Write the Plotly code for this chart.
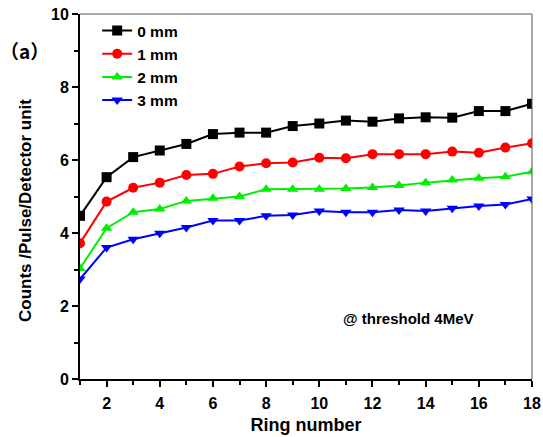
import plotly.graph_objects as go

ring = list(range(1, 19))
mm0 = [4.47, 5.53, 6.08, 6.26, 6.44, 6.71, 6.75, 6.75, 6.93, 7.0, 7.08, 7.05, 7.14, 7.17, 7.16, 7.34, 7.34, 7.54]
mm1 = [3.72, 4.86, 5.24, 5.38, 5.59, 5.62, 5.82, 5.91, 5.93, 6.06, 6.05, 6.16, 6.16, 6.16, 6.23, 6.2, 6.34, 6.46]
mm2 = [3.03, 4.13, 4.57, 4.66, 4.88, 4.95, 5.0, 5.2, 5.2, 5.2, 5.22, 5.25, 5.3, 5.38, 5.45, 5.5, 5.54, 5.68]
mm3 = [2.74, 3.6, 3.83, 3.99, 4.15, 4.34, 4.34, 4.47, 4.49, 4.6, 4.57, 4.57, 4.63, 4.6, 4.68, 4.74, 4.78, 4.93]

names = ["0 mm", "1 mm", "2 mm", "3 mm"]
colors = ["#000000", "#ff0000", "#00ee00", "#0000ff"]
symbols = ["square", "circle", "triangle-up", "triangle-down"]

fig = go.Figure()
for ys, n, c, s in zip([mm0, mm1, mm2, mm3], names, colors, symbols):
    fig.add_trace(go.Scatter(x=ring, y=ys, name=n, mode="lines+markers",
                             line=dict(color=c, width=2),
                             marker=dict(symbol=s, size=10, color=c)))

font = "Arial, Liberation Sans, sans-serif"
fig.update_layout(
    width=543, height=437,
    margin=dict(l=80, r=11, t=14, b=58),
    paper_bgcolor="white", plot_bgcolor="white",
    showlegend=True,
    legend=dict(x=0.038, y=1.0, xanchor="left", yanchor="top",
                font=dict(family=font, size=15.5, color="black", weight="bold"),
                bgcolor="rgba(0,0,0,0)", tracegroupgap=0, itemwidth=30),
    xaxis=dict(range=[1, 18], tickvals=list(range(2, 19, 2)), automargin=False,
               showline=True, linecolor="black", linewidth=2,
               ticks="outside", ticklen=6, tickwidth=1.5, tickcolor="black", ticklabelstandoff=3,
               minor=dict(tickvals=list(range(1, 19, 2)), ticks="outside", ticklen=4, tickcolor="black", tickwidth=1.5),
               showgrid=False, zeroline=False,
               tickfont=dict(family=font, size=16, color="black", weight="bold"),
               title=dict(text="Ring number", font=dict(family=font, size=18, color="black", weight="bold"), standoff=7)),
    yaxis=dict(range=[0, 10], tickvals=list(range(0, 11, 2)), automargin=False,
               showline=True, linecolor="black", linewidth=2,
               ticks="outside", ticklen=6, tickwidth=1.5, tickcolor="black",
               minor=dict(tickvals=list(range(1, 11, 2)), ticks="outside", ticklen=4, tickcolor="black", tickwidth=1.5),
               showgrid=False, zeroline=False,
               tickfont=dict(family=font, size=16, color="black", weight="bold")),
)
fig.add_shape(type="line", xref="paper", yref="paper", x0=0, x1=1, y0=1, y1=1, line=dict(color="#555555", width=1))
fig.add_shape(type="line", xref="paper", yref="paper", x0=1, x1=1, y0=0, y1=1, line=dict(color="#555555", width=1))
fig.add_annotation(text="Counts /Pulse/Detector unit", xref="paper", yref="paper", x=-0.1217, y=0.463,
                   xanchor="center", yanchor="middle", textangle=-90, showarrow=False,
                   font=dict(family=font, size=17, color="black", weight="bold"))
fig.add_annotation(text="（a）", xref="paper", yref="paper", x=-0.122, y=0.901, xanchor="center", yanchor="middle",
                   showarrow=False, font=dict(family="Noto Sans CJK SC", size=19, color="black", weight="bold"))
fig.add_annotation(text="@ threshold 4MeV", xref="x", yref="y", x=13.35, y=1.67, xanchor="center", yanchor="middle",
                   showarrow=False, font=dict(family=font, size=15, color="black", weight="bold"))
fig.write_html("out.html")
